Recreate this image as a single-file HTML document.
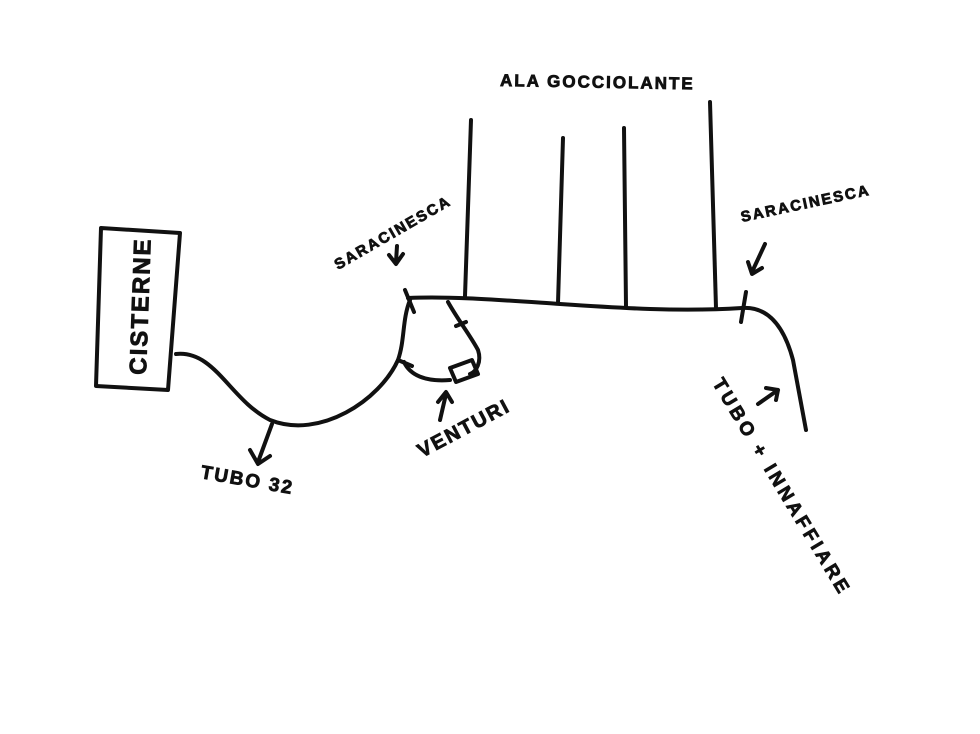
<!DOCTYPE html>
<html><head><meta charset="utf-8"><style>
html,body{margin:0;padding:0;background:#fff;}
svg{display:block}
text{font-family:"Liberation Sans",sans-serif;font-weight:bold;fill:#111;stroke:#111;stroke-width:0.8;letter-spacing:2px}
</style></head><body>
<svg width="980" height="734" viewBox="0 0 980 734" xmlns="http://www.w3.org/2000/svg">
<g fill="none" stroke="#111" stroke-width="4" stroke-linecap="round" stroke-linejoin="round">
<path d="M101 228 L180 233 L168 390 L96 386 Z"/>
<path d="M176 354 C215 350 230 400 270 420 C320 440 380 400 398 360 C405 340 402 320 410 300"/>
<path d="M408 298 C450 296 500 300 560 304 C620 308 680 312 742 308 C770 306 785 330 793 360 L806 430"/>
<path d="M471 120 L465 296"/>
<path d="M563 138 L558 303"/>
<path d="M624 128 L626 306"/>
<path d="M710 102 L716 308"/>
<path d="M405 290 L414 312"/>
<path d="M746 292 L741 322"/>
<path d="M448 302 C458 320 470 335 478 350 C482 362 476 372 470 374"/>
<path d="M456 326 L466 322"/>
<path d="M404 362 C410 375 425 382 450 380"/>
<path d="M398 360 L412 366"/>
<path d="M450 368 L472 360 L478 374 L456 382 Z"/>
<path d="M397 246 L396 262 M389 255 L396 264 L403 254"/>
<path d="M765 244 L752 272 M748 262 L752 274 L762 268"/>
<path d="M272 424 L258 462 M250 450 L258 464 L270 456"/>
<path d="M440 420 L446 394 M438 402 L446 392 L452 402"/>
<path d="M758 404 L778 390 M766 388 L778 390 L776 400"/>
</g>
<text x="338" y="270" font-size="15" transform="rotate(-30 338 270)">SARACINESCA</text>
<text x="742" y="222" font-size="15" transform="rotate(-12 742 222)">SARACINESCA</text>
<text x="500" y="86" font-size="17" transform="rotate(1 500 86)">ALA GOCCIOLANTE</text>
<text x="0" y="0" font-size="24" transform="translate(146 375) rotate(-88)">CISTERNE</text>
<text x="200" y="478" font-size="19" transform="rotate(10 200 478)">TUBO 32</text>
<text x="422" y="458" font-size="20" transform="rotate(-28 422 458)">VENTURI</text>
<text x="712" y="383" font-size="19" style="letter-spacing:3.5px" transform="rotate(59 712 383)">TUBO + INNAFFIARE</text>
</svg>
</body></html>
